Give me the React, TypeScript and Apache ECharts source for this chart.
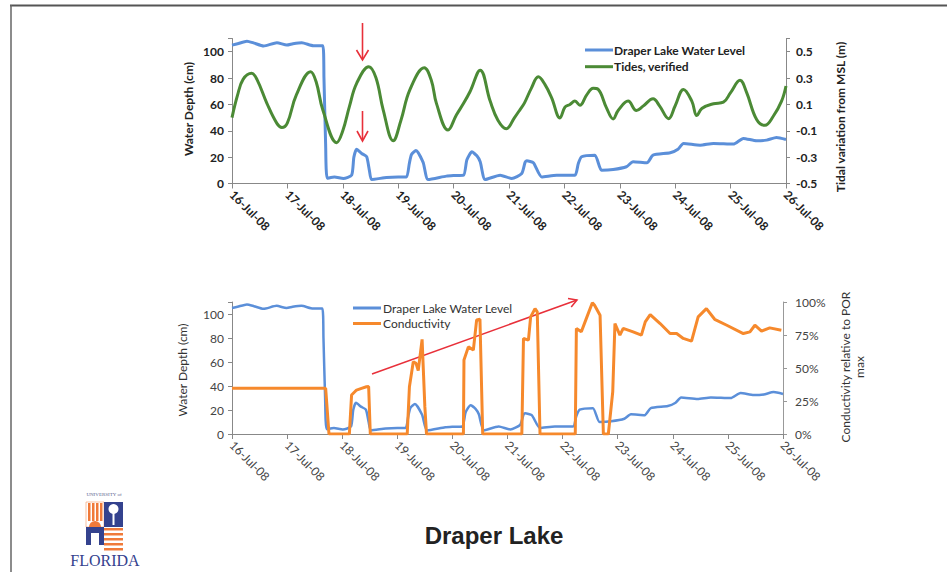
import React, { useEffect, useRef } from "react";
import * as echarts from "echarts";

const dateLabels = [
  "16-Jul-08", "17-Jul-08", "18-Jul-08", "19-Jul-08", "20-Jul-08", "21-Jul-08",
  "22-Jul-08", "23-Jul-08", "24-Jul-08", "25-Jul-08", "26-Jul-08",
];

// [day since 16-Jul-08 00:00, water depth cm]
const waterLevel: number[][] = [
  [0, 105], [0.1, 106], [0.27, 108], [0.4, 106.5], [0.57, 104.3], [0.81, 106.8], [0.99, 105],
  [1.1, 106], [1.26, 106.8], [1.47, 104.5], [1.64, 104.5], [1.66, 80], [1.69, 30], [1.72, 4],
  [1.85, 5], [2.01, 3.8], [2.16, 6.3], [2.2, 20], [2.25, 26], [2.34, 22.8], [2.43, 20.3],
  [2.48, 10], [2.52, 3], [2.79, 4.6], [3.0, 5], [3.15, 5], [3.2, 15], [3.24, 22], [3.32, 25],
  [3.45, 16], [3.54, 3], [3.87, 5.6], [4.0, 6], [4.18, 6.3], [4.24, 18], [4.33, 24], [4.42, 21],
  [4.48, 16.5], [4.57, 3], [4.84, 6.3], [5.05, 3.8], [5.23, 7.6], [5.29, 16], [5.32, 17.2],
  [5.44, 15.7], [5.59, 5], [5.86, 6.3], [6.19, 6.3], [6.25, 15], [6.31, 20.3], [6.55, 21.5],
  [6.67, 10.1], [6.88, 10.6], [7.12, 12.7], [7.24, 16.5], [7.49, 15.7], [7.6, 21.5], [7.91, 23.3],
  [8.05, 26], [8.15, 30.4], [8.45, 29.1], [8.69, 30.4], [9.05, 29.9], [9.23, 34.2], [9.47, 32.4],
  [9.65, 32.9], [9.83, 34.9], [10.0, 33.4],
];

// [day, tidal variation from MSL m]
const tides: number[][] = [
  [0, 0.0], [0.1, 0.17], [0.2, 0.29], [0.355, 0.336], [0.45, 0.29], [0.63, 0.108], [0.81, -0.044],
  [0.9, -0.075], [1.0, -0.04], [1.16, 0.17], [1.42, 0.348], [1.52, 0.27], [1.64, 0.057],
  [1.89, -0.19], [2.0, -0.1], [2.12, 0.085], [2.25, 0.26], [2.47, 0.386], [2.6, 0.3], [2.73, 0.057],
  [2.91, -0.176], [3.05, -0.02], [3.21, 0.21], [3.47, 0.378], [3.6, 0.28], [3.69, 0.108],
  [3.9, -0.095], [4.05, 0.02], [4.18, 0.108], [4.3, 0.2], [4.48, 0.36], [4.66, 0.125], [4.8, -0.02],
  [4.95, -0.085], [5.1, 0.0], [5.2, 0.061], [5.28, 0.112], [5.4, 0.22], [5.53, 0.309], [5.65, 0.25],
  [5.77, 0.15], [5.92, -0.003], [6.01, 0.079], [6.1, 0.1], [6.19, 0.125], [6.28, 0.094], [6.4, 0.17],
  [6.52, 0.222], [6.61, 0.214], [6.76, 0.074], [6.88, -0.01], [6.97, 0.054], [7.15, 0.125],
  [7.3, 0.054], [7.42, 0.087], [7.6, 0.143], [7.72, 0.087], [7.88, -0.008], [8.0, 0.09],
  [8.15, 0.214], [8.3, 0.125], [8.39, 0.015], [8.48, 0.069], [8.69, 0.105], [8.87, 0.117],
  [9.0, 0.19], [9.17, 0.283], [9.29, 0.189], [9.47, -0.015], [9.62, -0.059], [9.77, 0.01],
  [9.92, 0.125], [10.0, 0.24],
];

// [day, conductivity relative to POR max (fraction)]
const conductivity: number[][] = [
  [0, 0.346], [1.7, 0.346], [1.76, 0], [2.13, 0], [2.17, 0.295], [2.26, 0.333], [2.35, 0.346],
  [2.44, 0.358], [2.48, 0.36], [2.51, 0], [3.18, 0], [3.22, 0.358], [3.29, 0.548], [3.34, 0.535],
  [3.38, 0.48], [3.45, 0.717], [3.5, 0.207], [3.53, 0], [4.2, 0], [4.21, 0.56], [4.29, 0.66],
  [4.38, 0.636], [4.44, 0.864], [4.5, 0.869], [4.55, 0], [5.26, 0], [5.29, 0.724], [5.38, 0.711],
  [5.42, 0.887], [5.5, 0.95], [5.54, 0.925], [5.59, 0], [6.23, 0], [6.25, 0.8], [6.34, 0.774],
  [6.43, 0.874], [6.54, 0.995], [6.58, 0.975], [6.68, 0.9], [6.74, 0], [6.83, 0], [6.91, 0.32],
  [6.95, 0.837], [7.04, 0.749], [7.1, 0.8], [7.28, 0.774], [7.43, 0.749], [7.5, 0.849],
  [7.59, 0.905], [7.77, 0.837], [7.95, 0.761], [8.07, 0.761], [8.19, 0.724], [8.34, 0.704],
  [8.46, 0.887], [8.61, 0.95], [8.76, 0.869], [8.98, 0.824], [9.28, 0.761], [9.4, 0.774],
  [9.49, 0.824], [9.61, 0.779], [9.76, 0.804], [9.97, 0.786],
];

const BLUE = "#5B8FD9";
const GREEN = "#4B8A35";
const ORANGE = "#F6892C";
const RED = "#E8303A";
const NAVY = "#34428E";
const FONT = "Lato, 'Open Sans', sans-serif";

export default function App() {
  const ref = useRef<HTMLDivElement>(null);
  useEffect(() => {
    if (!ref.current) return;
    const chart = echarts.init(ref.current, undefined, { renderer: "svg" });
    const xCommon = (bold: boolean, gridIndex: number) => ({
      type: "value",
      gridIndex,
      min: 0,
      max: 10,
      interval: 1,
      splitLine: { show: false },
      axisLine: { show: true, lineStyle: { color: "#888", width: 1 } },
      axisTick: { show: true, length: 5, lineStyle: { color: "#888" } },
      axisLabel: {
        rotate: -45,
        margin: 9,
        fontFamily: FONT,
        fontSize: 12,
        fontWeight: bold ? "bold" : "normal",
        color: bold ? "#222" : "#444",
        formatter: (v: number) => dateLabels[Math.round(v)] ?? "",
      },
    });
    const yLeft = (bold: boolean, gridIndex: number) => ({
      type: "value",
      gridIndex,
      position: "left",
      min: 0,
      max: 110,
      interval: 20,
      splitLine: { show: false },
      axisLine: { show: true, lineStyle: { color: "#888" } },
      axisTick: { show: true, length: 4, lineStyle: { color: "#888" } },
      axisLabel: {
        fontFamily: FONT,
        fontSize: 12,
        fontWeight: bold ? "bold" : "normal",
        color: bold ? "#222" : "#444",
        margin: 8,
        formatter: (v: number) => (v > 105 ? "" : String(v)),
      },
    });
    const option: any = {
      animation: false,
      backgroundColor: "#fff",
      grid: [
        { left: 232, top: 38.5, width: 554, height: 145 },
        { left: 232, top: 302, width: 551, height: 132 },
      ],
      legend: [
        {
          orient: "vertical",
          left: 580,
          top: 38,
          icon: "rect",
          itemWidth: 28,
          itemHeight: 3,
          itemGap: 2.7,
          data: ["Draper Lake Water Level", "Tides, verified"],
          textStyle: { fontFamily: FONT, fontSize: 12, lineHeight: 14, fontWeight: "bold", color: "#222", padding: [0, 0, 0, -4] },
        },
        {
          orient: "vertical",
          left: 348,
          top: 296,
          icon: "rect",
          itemWidth: 28,
          itemHeight: 3,
          itemGap: 1.5,
          data: ["Draper Lake Water Level", "Conductivity"],
          textStyle: { fontFamily: FONT, fontSize: 12, lineHeight: 14, color: "#333", padding: [0, 0, 0, -3] },
        },
      ],
      xAxis: [xCommon(true, 0), xCommon(false, 1)],
      yAxis: [
        yLeft(true, 0),
        {
          type: "value",
          gridIndex: 0,
          position: "right",
          min: -0.5,
          max: 0.6,
          interval: 0.2,
          splitLine: { show: false },
          axisLine: { show: true, lineStyle: { color: "#888" } },
          axisTick: { show: true, length: 4, lineStyle: { color: "#888" } },
          axisLabel: {
            fontFamily: FONT,
            fontSize: 12,
            fontWeight: "bold",
            color: "#222",
            margin: 10,
            formatter: (v: number) => (v > 0.55 ? "" : (Math.round(v * 10) / 10).toFixed(1)),
          },
        },
        yLeft(false, 1),
        {
          type: "value",
          gridIndex: 1,
          position: "right",
          min: 0,
          max: 1,
          interval: 0.25,
          splitLine: { show: false },
          axisLine: { show: true, lineStyle: { color: "#999" } },
          axisTick: { show: true, length: 4, lineStyle: { color: "#999" } },
          axisLabel: {
            fontFamily: FONT,
            fontSize: 12,
            color: "#444",
            margin: 12,
            formatter: (v: number) => Math.round(v * 100) + "%",
          },
        },
      ],
      series: [
        {
          name: "Draper Lake Water Level",
          type: "line",
          xAxisIndex: 0,
          yAxisIndex: 0,
          data: waterLevel,
          symbol: "none",
          smooth: 0.2,
          lineStyle: { color: BLUE, width: 3 },
          itemStyle: { color: BLUE },
        },
        {
          name: "Tides, verified",
          type: "line",
          xAxisIndex: 0,
          yAxisIndex: 1,
          data: tides,
          symbol: "none",
          smooth: 0.4,
          lineStyle: { color: GREEN, width: 3 },
          itemStyle: { color: GREEN },
        },
        {
          name: "Draper Lake Water Level",
          type: "line",
          xAxisIndex: 1,
          yAxisIndex: 2,
          data: waterLevel,
          symbol: "none",
          smooth: 0.2,
          lineStyle: { color: BLUE, width: 2.5 },
          itemStyle: { color: BLUE },
        },
        {
          name: "Conductivity",
          type: "line",
          xAxisIndex: 1,
          yAxisIndex: 3,
          data: conductivity,
          symbol: "none",
          lineStyle: { color: ORANGE, width: 3 },
          itemStyle: { color: ORANGE },
        },
      ],
      graphic: [
        // frame
        { type: "line", shape: { x1: 10, y1: 5.5, x2: 947, y2: 5.5 }, style: { stroke: "#555", lineWidth: 2 } },
        { type: "line", shape: { x1: 11, y1: 5, x2: 11, y2: 572 }, style: { stroke: "#666", lineWidth: 1.5 } },
        // axis titles
        {
          type: "text", x: 188, y: 109, rotation: Math.PI / 2,
          style: { text: "Water Depth (cm)", align: "center", verticalAlign: "middle", font: `bold 12px ${FONT}`, fill: "#222" },
        },
        {
          type: "text", x: 840, y: 117, rotation: Math.PI / 2,
          style: { text: "Tidal variation from MSL (m)", align: "center", verticalAlign: "middle", font: `bold 12px ${FONT}`, fill: "#222" },
        },
        {
          type: "text", x: 182, y: 370, rotation: Math.PI / 2,
          style: { text: "Water Depth (cm)", align: "center", verticalAlign: "middle", font: `12px ${FONT}`, fill: "#333" },
        },
        {
          type: "text", x: 852, y: 367, rotation: Math.PI / 2,
          style: { text: "Conductivity relative to POR\nmax", align: "center", verticalAlign: "middle", lineHeight: 14, font: `12px ${FONT}`, fill: "#333" },
        },
        // red arrows top
        { type: "line", shape: { x1: 362.5, y1: 23, x2: 362.5, y2: 59 }, style: { stroke: RED, lineWidth: 1.6 } },
        { type: "polyline", shape: { points: [[356.5, 50], [362.5, 60], [368.5, 50]] }, style: { stroke: RED, lineWidth: 1.6, fill: "none" } },
        { type: "line", shape: { x1: 362.5, y1: 111, x2: 362.5, y2: 140 }, style: { stroke: RED, lineWidth: 1.6 } },
        { type: "polyline", shape: { points: [[357, 131], [362.5, 141], [368, 131]] }, style: { stroke: RED, lineWidth: 1.6, fill: "none" } },
        // red trend arrow bottom
        { type: "line", shape: { x1: 372, y1: 374, x2: 577, y2: 300 }, style: { stroke: RED, lineWidth: 1.5 } },
        { type: "polyline", shape: { points: [[568, 298.4], [577, 300], [571.2, 306.9]] }, style: { stroke: RED, lineWidth: 1.5, fill: "none" } },
        // title
        {
          type: "text", x: 494, y: 535,
          style: { text: "Draper Lake", align: "center", verticalAlign: "middle", font: "bold 24px 'Liberation Sans', Arial, sans-serif", fill: "#222" },
        },
        // logo
        {
          type: "text", x: 104, y: 494,
          style: { text: "UNIVERSITY of", align: "center", verticalAlign: "middle", font: "5px 'Liberation Serif', serif", fill: "#5a5f8f" },
        },
        { type: "rect", shape: { x: 86, y: 502, width: 18, height: 25 }, style: { fill: "#fff", stroke: "#f08040", lineWidth: 0.5 } },
        { type: "rect", shape: { x: 88, y: 503, width: 2.5, height: 18 }, style: { fill: "#F07A3A" } },
        { type: "rect", shape: { x: 92, y: 503, width: 2.5, height: 18 }, style: { fill: "#F07A3A" } },
        { type: "rect", shape: { x: 96, y: 503, width: 2.5, height: 18 }, style: { fill: "#F07A3A" } },
        { type: "rect", shape: { x: 100, y: 503, width: 2.5, height: 18 }, style: { fill: "#F07A3A" } },
        { type: "sector", shape: { cx: 95, cy: 527, r0: 0, r: 6, startAngle: Math.PI, endAngle: 2 * Math.PI }, style: { fill: "#F07A3A" } },
        { type: "rect", shape: { x: 104, y: 502, width: 19, height: 25 }, style: { fill: NAVY } },
        { type: "rect", shape: { x: 112.5, y: 510, width: 2, height: 15 }, style: { fill: "#fff" } },
        { type: "circle", shape: { cx: 113.5, cy: 509, r: 5 }, style: { fill: "#fff" } },
        { type: "rect", shape: { x: 86, y: 527, width: 18, height: 18 }, style: { fill: NAVY } },
        { type: "rect", shape: { x: 91, y: 533, width: 8, height: 12 }, style: { fill: "#fff" } },
        { type: "rect", shape: { x: 104, y: 527, width: 19, height: 23 }, style: { fill: "#fff" } },
        { type: "rect", shape: { x: 104, y: 528, width: 19, height: 2.5 }, style: { fill: "#F07A3A" } },
        { type: "rect", shape: { x: 104, y: 533, width: 19, height: 2.5 }, style: { fill: "#F07A3A" } },
        { type: "rect", shape: { x: 104, y: 538, width: 19, height: 2.5 }, style: { fill: "#F07A3A" } },
        { type: "rect", shape: { x: 104, y: 543, width: 19, height: 2.5 }, style: { fill: "#F07A3A" } },
        { type: "rect", shape: { x: 104, y: 548, width: 19, height: 2.5 }, style: { fill: "#F07A3A" } },
        {
          type: "text", x: 105, y: 560,
          style: { text: "FLORIDA", align: "center", verticalAlign: "middle", font: "16px 'Liberation Serif', serif", fill: NAVY },
        },
      ],
    };
    chart.setOption(option);
    return () => chart.dispose();
  }, []);
  return (
    <div
      ref={ref}
      style={{ position: "absolute", left: 0, top: 0, width: 947, height: 572, background: "#fff" }}
    />
  );
}
